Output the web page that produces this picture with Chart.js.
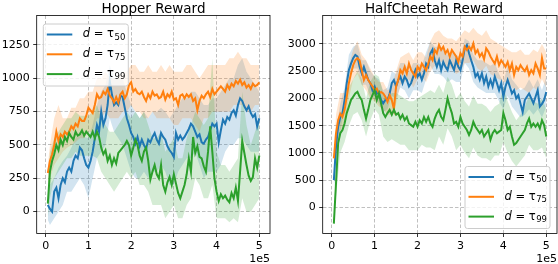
<!DOCTYPE html>
<html>
<head>
<meta charset="utf-8">
<script src="https://cdn.jsdelivr.net/npm/chart.js@4.4.1/dist/chart.umd.min.js"></script>
<style>
  html, body { margin: 0; padding: 0; background: #fff; }
  #wrap { position: relative; width: 558px; height: 264px; overflow: hidden; }
  canvas { position: absolute; top: 0; }
</style>
</head>
<body>
<div id="wrap">
  <canvas id="hopper" width="279" height="264" style="left:0"></canvas>
  <canvas id="cheetah" width="279" height="264" style="left:279px"></canvas>
</div>
<script>
// training steps (x 1e5): mean curves every 0.05, std bands every 0.1
const stepX = Array.from({length: 100}, (_, i) => +((i + 1) * 0.05).toFixed(2))
const bandX = [0.05, ...Array.from({length: 50}, (_, i) => +((i + 1) * 0.1).toFixed(1))]

const xTicks = [0, 1, 2, 3, 4, 5]
const hopperTicks = [0, 250, 500, 750, 1000, 1250]
const cheetahTicks = [0, 500, 1000, 1500, 2000, 2500, 3000]

const seriesNames = ['50', '75', '99']
const colors = ['#1f77b4', '#ff7f0e', '#2ca02c']

// ---- Hopper ----
const hopperTau50 = [50,20,0,150,180,100,200,250,220,300, 330,300,380,420,400,480,460,400,350,330,
  380,450,550,650,600,750,650,700,800,980, 880,800,820,800,870,860,780,700,650,590,
  560,510,560,490,540,500,470,540,520,560, 590,540,510,590,560,540,490,460,440,410,
  590,540,570,540,560,590,620,660,640,600, 560,580,520,510,540,560,610,660,640,660,
  520,610,690,660,710,690,740,760,720,800, 850,830,790,760,790,740,710,730,640,700]
const hopperTau75 = [290,380,430,500,600,530,580,560,600,580, 600,640,620,660,640,700,680,680,720,780,
  760,740,800,880,850,860,900,880,920,870, 850,820,860,820,880,900,850,880,950,970,
  900,920,890,880,900,860,830,880,850,900, 870,880,850,860,900,840,880,860,900,840,
  850,800,870,880,850,880,860,880,830,850, 760,830,870,850,880,900,860,920,880,900,
  920,940,920,900,950,920,960,940,980,960, 990,950,970,930,950,920,960,940,950,970]
const hopperTau99 = [60,300,380,430,500,460,540,500,560,530, 590,560,540,600,570,580,610,570,600,580,
  560,600,550,600,560,480,430,460,380,420, 350,400,360,440,460,480,500,530,500,420,
  480,540,500,420,380,450,480,380,240,300, 350,280,250,350,200,150,220,260,200,280,
  210,140,100,150,200,280,400,300,560,440, 490,410,400,340,300,450,640,450,250,150,
  80,130,100,120,90,70,140,100,180,80, 300,530,440,350,270,230,260,400,330,420]

const hopperLow50 = [-60,-100,-50,0,50,150,150,200,250,200, 100,250,400,450,500,700,600,550,500,400,
  300,250,250,300,250,300,300,350,300,200, 200,300,350,400,400,450,350,250,300,300,
  300,350,450,500,500,550,550,500,450,450, 450]
const hopperHigh50 = [150,200,250,330,380,420,480,550,600,560, 550,650,800,900,950,1100,1000,1000,1000,900,
  800,750,700,750,700,750,750,780,750,700, 750,800,850,850,900,900,850,800,800,850,
  850,900,950,1000,1000,1100,1150,1050,1000,950, 900]
const hopperLow75 = [200,250,350,400,450,480,500,520,550,550, 600,600,700,700,750,700,700,700,750,750,
  800,750,750,700,700,750,700,700,700,700, 650,650,700,700,700,650,600,700,700,750,
  750,750,750,750,800,800,800,750,750,800, 800]
const hopperHigh75 = [350,500,700,800,700,700,780,780,850,850, 900,900,1000,1000,1050,1000,1000,1000,1050,1050,
  1100,1100,1050,1050,1100,1050,1050,1100,1050,1100, 1050,1050,1050,1100,1100,1050,1000,1050,1100,1100,
  1100,1100,1100,1150,1150,1200,1150,1150,1100,1100, 1100]
const hopperLow99 = [-50,100,250,300,350,400,400,450,420,420, 420,420,400,300,250,200,150,200,250,300,
  250,300,200,200,150,50,50,50,-50,0, 50,-50,-50,50,100,250,200,100,100,200,
  -50,-50,-50,-80,-50,-80,100,0,0,50, 100]
const hopperHigh99 = [200,450,550,600,650,700,700,750,720,720, 720,750,800,700,650,600,600,650,700,750,
  700,750,700,750,650,550,550,600,450,500, 550,400,400,550,650,750,700,650,700,1150,
  450,350,350,300,350,400,900,650,500,600, 700]

// ---- HalfCheetah ----
const cheetahTau50 = [500,1110,1480,1660,1720,1970,2280,2520,2640,2740, 2800,2770,2580,2460,2580,2460,2340,2280,2150,2220,
  2090,2120,1970,1910,1970,1970,2090,2280,2340,2220, 2340,2400,2280,2400,2340,2220,2280,2400,2520,2400,
  2460,2340,2460,2640,2580,2830,2900,2700,2580,2700, 2520,2670,2580,2520,2700,2610,2520,2700,2580,2520,
  2700,2920,2980,2830,2700,2580,2400,2460,2340,2460, 2280,2400,2220,2340,2220,2400,2280,2150,2280,2030,
  2220,2340,2220,2090,2150,2000,2060,1900,1750,1970, 2030,2090,2000,1910,2030,2150,1850,1900,1970,2120]
const cheetahTau75 = [900,1360,1600,1720,1660,1790,2030,2280,2460,2610, 2700,2740,2700,2520,2340,2430,2340,2280,2220,2150,
  2180,2090,2120,2090,2030,1940,2060,1970,1800,2220, 2340,2520,2460,2580,2460,2640,2520,2460,2400,2580,
  2520,2640,2580,2520,2640,2770,2700,2890,2830,2980, 2890,2950,2830,2890,2770,2890,2830,2770,2670,2830,
  2770,2950,2890,2950,2890,3010,2830,2890,2770,2830, 2720,2920,2860,2770,2700,2640,2770,2610,2700,2640,
  2580,2670,2520,2640,2430,2580,2520,2610,2550,2500, 2580,2430,2520,2460,2640,2550,2430,2740,2550,2550]
const cheetahTau99 = [-300,440,1180,1360,1420,1540,1730,1850,1970,2030, 2090,2120,2030,1970,1790,1630,1790,1970,2060,2150,
  1970,2090,1910,1730,1660,1730,1790,1700,1790,1700, 1730,1630,1700,1600,1660,1540,1510,1480,1570,1480,
  1600,1540,1660,1570,1660,1540,1480,1630,1730,1790, 1660,1600,1790,2000,1850,1730,1540,1570,1480,1660,
  1540,1480,1420,1330,1420,1570,1480,1420,1360,1420, 1300,1360,1420,1240,1360,1420,1360,1390,1420,1730,
  1600,1420,1480,1300,1150,1180,1240,1300,1360,1420, 1540,1630,1480,1540,1480,1540,1450,1600,1510,1300]

const cheetahLow50 = [350,700,1400,1800,2300,2550,2550,2250,2250,2050, 2000,1900,1750,1800,2050,2000,2200,2150,2000,2150,
  2150,2100,2350,2600,2450,2450,2400,2300,2350,2300, 2300,2650,2550,2300,2200,2150,2100,2100,2100,1950,
  1800,2050,1850,1750,1650,1700,1800,1700,1800,1650, 1850]
const cheetahHigh50 = [650,1400,1900,2200,2800,2950,3000,2700,2700,2500, 2400,2350,2150,2200,2500,2450,2650,2650,2500,2650,
  2650,2600,2850,3050,2950,2950,2900,2800,2850,2800, 2750,3100,3050,2800,2700,2700,2650,2600,2650,2450,
  2300,2600,2350,2250,2150,2200,2350,2200,2350,2150, 2400]
const cheetahLow75 = [800,1100,1400,1550,2000,2350,2450,2250,2150,2000, 1950,1850,1800,1700,1700,1900,2250,2300,2350,2200,
  2350,2400,2300,2500,2600,2700,2650,2550,2550,2450, 2500,2650,2650,2700,2550,2500,2600,2450,2400,2350,
  2300,2300,2200,2150,2200,2150,2100,2200,2150,2350, 2200]
const cheetahHigh75 = [1000,1700,2100,2100,2600,2900,3050,2800,2700,2550, 2400,2300,2300,2150,2200,2500,2750,2800,2850,2700,
  2850,2850,2750,3050,3200,3250,3150,3100,3100,3050, 3150,3250,3200,3300,3200,3150,3250,3100,3050,3000,
  2950,2900,2850,2850,2900,2800,2800,2900,2850,3000, 2850]
const cheetahLow99 = [-350,200,1000,1200,1500,1700,1750,1600,1300,1600, 1800,1700,1300,1200,1250,1200,1150,1150,1050,1050,
  1050,1150,1100,1100,1050,1300,1150,1450,1300,1050, 1150,1000,900,1100,950,900,900,850,950,950,
  1200,1000,850,750,850,950,1150,1050,1050,1100, 900]
const cheetahHigh99 = [-150,700,1700,1900,2200,2350,2500,2350,2000,2300, 2450,2400,2100,2000,2100,2100,2050,2000,1950,1950,
  2000,2050,2100,2150,2100,2250,2100,2400,2250,2000, 2100,1950,1850,2050,1900,1900,1850,1750,1850,1900,
  2200,1950,1750,1600,1700,1850,2050,1950,1900,2000, 1800]

const FONT = '"DejaVu Sans", Verdana, sans-serif'

function pts(xs, ys){
    return xs.map((x, i) => ({x: x, y: ys[i]}))
}

function fade(hex, a){
    const n = parseInt(hex.slice(1), 16)
    return `rgba(${n >> 16}, ${(n >> 8) & 255}, ${n & 255}, ${a})`
}

function buildDatasets(means, lows, highs){
    let sets = []
    means.forEach((mean, k) => {
        sets.push({data: pts(bandX, highs[k]), borderWidth: 0, pointRadius: 0,
            backgroundColor: fade(colors[k], 0.2), fill: '+1', order: 12 - k})
        sets.push({data: pts(bandX, lows[k]), borderWidth: 0, pointRadius: 0, fill: false, order: 12 - k})
        sets.push({data: pts(stepX, mean), borderColor: colors[k], borderWidth: 2, pointRadius: 0,
            fill: false, order: 2 - k})
    })
    return sets
}

// frame, title, legend and the 1e5 offset label, matplotlib style
function decorPlugin(title, titleX, legendAt){
    return {
        id: 'decor',
        afterDraw(chart){
            const ctx = chart.ctx
            const a = chart.chartArea
            ctx.save()
            ctx.strokeStyle = '#000'
            ctx.lineWidth = 0.8
            ctx.strokeRect(a.left, a.top, a.right - a.left, a.bottom - a.top)

            ctx.fillStyle = '#000'
            ctx.font = `13.5px ${FONT}`
            ctx.textAlign = 'center'
            ctx.textBaseline = 'alphabetic'
            ctx.fillText(title, titleX, 12.5)

            ctx.font = `11px ${FONT}`
            ctx.textAlign = 'right'
            ctx.textBaseline = 'top'
            ctx.fillText('1e5', a.right, 254)

            const lx = legendAt.x, ly = legendAt.y, w = 85, h = 62
            ctx.beginPath()
            ctx.roundRect(lx, ly, w, h, 2.5)
            ctx.fillStyle = 'rgba(255,255,255,0.8)'
            ctx.fill()
            ctx.strokeStyle = '#cccccc'
            ctx.lineWidth = 1
            ctx.stroke()

            seriesNames.forEach((name, k) => {
                const ry = ly + 10.5 + k * 19.8
                ctx.strokeStyle = colors[k]
                ctx.lineWidth = 2
                ctx.beginPath()
                ctx.moveTo(lx + 3.5, ry)
                ctx.lineTo(lx + 29, ry)
                ctx.stroke()

                ctx.fillStyle = '#000'
                ctx.textAlign = 'left'
                ctx.textBaseline = 'middle'
                let tx = lx + 39.5
                ctx.font = `italic 11.5px ${FONT}`
                ctx.fillText('d', tx, ry)
                tx += ctx.measureText('d').width
                ctx.font = `11.5px ${FONT}`
                ctx.fillText(' = τ', tx, ry)
                tx += ctx.measureText(' = τ').width
                ctx.font = `8.5px ${FONT}`
                ctx.fillText(name, tx + 0.5, ry + 3)
            })
            ctx.restore()
        }
    }
}

function makeChart(id, opts){
    const tickFont = {family: FONT, size: 11}
    return new Chart(document.getElementById(id), {
        type: 'line',
        data: {datasets: buildDatasets(opts.means, opts.lows, opts.highs)},
        options: {
            responsive: false,
            animation: false,
            layout: {padding: {left: 0, right: opts.padRight, top: 15.5, bottom: 0}},
            plugins: {legend: {display: false}, tooltip: {enabled: false}},
            scales: {
                x: {
                    type: 'linear', min: -0.21, max: 5.25,
                    afterBuildTicks: s => { s.ticks = xTicks.map(v => ({value: v})) },
                    afterFit: s => { s.height = 30.5 },
                    ticks: {font: tickFont, color: '#000', padding: 3, autoSkip: false, maxRotation: 0,
                        callback: v => String(v)},
                    grid: {color: '#b0b0b0', lineWidth: 0.8, tickColor: '#000', tickLength: 3.5, tickWidth: 0.8},
                    border: {display: false, dash: [3.5, 2]}
                },
                y: {
                    type: 'linear', min: opts.yMin, max: opts.yMax,
                    afterBuildTicks: s => { s.ticks = opts.yTicks.map(v => ({value: v})) },
                    afterFit: s => { s.width = opts.axisWidth },
                    ticks: {font: tickFont, color: '#000', padding: 3.5, autoSkip: false,
                        callback: v => String(v)},
                    grid: {color: '#b0b0b0', lineWidth: 0.8, tickColor: '#000', tickLength: 3.5, tickWidth: 0.8},
                    border: {display: false, dash: [3.5, 2]}
                }
            }
        },
        plugins: [decorPlugin(opts.title, opts.titleX, opts.legendAt)]
    })
}

makeChart('hopper', {
    title: 'Hopper Reward', titleX: 153.5,
    means: [hopperTau50, hopperTau75, hopperTau99],
    lows: [hopperLow50, hopperLow75, hopperLow99],
    highs: [hopperHigh50, hopperHigh75, hopperHigh99],
    yMin: -164, yMax: 1471, yTicks: hopperTicks,
    axisWidth: 36.7, padRight: 9,
    legendAt: {x: 43.3, y: 24}
})

makeChart('cheetah', {
    title: 'HalfCheetah Reward', titleX: 155,
    means: [cheetahTau50, cheetahTau75, cheetahTau99],
    lows: [cheetahLow50, cheetahLow75, cheetahLow99],
    highs: [cheetahHigh50, cheetahHigh75, cheetahHigh99],
    yMin: -481, yMax: 3523, yTicks: cheetahTicks,
    axisWidth: 43.7, padRight: 1,
    legendAt: {x: 186, y: 166.5}
})
</script>
</body>
</html>
